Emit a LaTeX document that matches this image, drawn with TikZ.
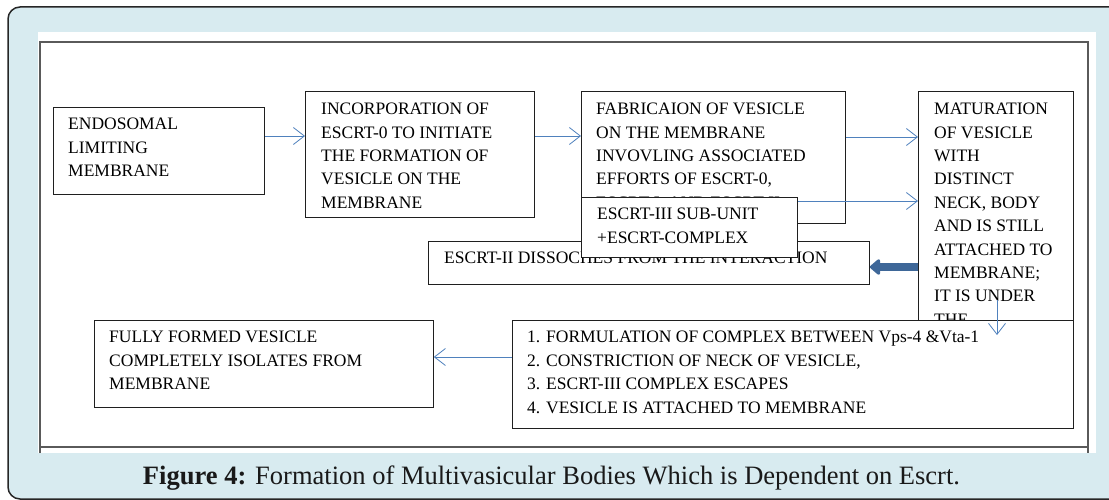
\documentclass[tikz,border=0pt]{standalone}
\usepackage{fontspec}
\setmainfont{Liberation Serif}
\usetikzlibrary{arrows.meta}
\definecolor{panelblue}{RGB}{216,235,240}
\definecolor{flowblue}{RGB}{79,129,189}
\definecolor{heavyblue}{RGB}{62,103,152}
\definecolor{framegray}{RGB}{90,90,90}
\begin{document}
\begin{tikzpicture}[x=1pt,y=-1pt,
  stepbox/.style={draw=black!88,line width=0.8pt,fill=white,inner sep=0pt,
    anchor=north west},
  boxtext/.style={anchor=north west,inner sep=0pt,align=left,
    font=\fontsize{17.5}{23.4}\selectfont,text=black},
  thinarrow/.style={draw=flowblue,line width=0.8pt,
    -{Straight Barb[length=11pt,width=17pt,line width=0.8pt]}},
  heavyarrow/.style={draw=heavyblue,line width=8pt,
    -{Triangle[length=11pt,width=18pt,round]}}]
\useasboundingbox (0,0) rectangle (1109,500);

% panel and page
\draw[fill=panelblue,draw=black!85,line width=1.5pt,rounded corners=12pt]
  (8,7) rectangle (1160,499);
\fill[white] (38,32) rectangle (1096,453);
\draw[framegray,line width=1.4pt] (40,453) -- (40,42) -- (1088,42) -- (1088,453);
\draw[framegray,line width=1.4pt] (40,447) -- (1088,447);

% process boxes
\node[stepbox,minimum width=211pt,minimum height=87pt] (endo) at (53,107) {};
\node[boxtext] (endo-t) at (68,118) {ENDOSOMAL\\LIMITING\\MEMBRANE};

\node[stepbox,minimum width=229pt,minimum height=126pt] (incorp) at (305,91) {};
\node[boxtext] (incorp-t) at (321,103)
  {INCORPORATION OF\\ESCRT-0 TO INITIATE\\THE FORMATION OF\\VESICLE ON THE\\MEMBRANE};

\node[stepbox,minimum width=264pt,minimum height=132pt] (fabric) at (581,91) {};
\node[boxtext] (fabric-t) at (596,103)
  {FABRICAION OF VESICLE\\ON THE MEMBRANE\\INVOVLING ASSOCIATED\\EFFORTS OF ESCRT-0,\\ESCRT-I, AND ESCRT-II};

\node[stepbox,minimum width=155pt,minimum height=240pt] (matur) at (918,91) {};
\node[boxtext] (matur-t) at (934,103)
  {MATURATION\\OF VESICLE\\WITH\\DISTINCT\\NECK, BODY\\AND IS STILL\\ATTACHED TO\\MEMBRANE;\\IT IS UNDER\\THE};

\node[stepbox,minimum width=441pt,minimum height=43pt] (escrt2) at (428,241) {};
\node[boxtext] (escrt2-t) at (444,252) {ESCRT-II DISSOCHES FROM THE INTERACTION};

\node[stepbox,minimum width=216pt,minimum height=60pt] (escrt3) at (581,197) {};
\node[boxtext] (escrt3-t) at (597,208) {ESCRT-III SUB-UNIT\\+ESCRT-COMPLEX};

\node[stepbox,minimum width=339pt,minimum height=87pt] (fully) at (94,320) {};
\node[boxtext] (fully-t) at (109,331)
  {FULLY FORMED VESICLE\\COMPLETELY ISOLATES FROM\\MEMBRANE};

\node[stepbox,minimum width=561pt,minimum height=108pt] (lower) at (512,320) {};
\node[boxtext] (lower-t) at (527,331)
  {1. FORMULATION OF COMPLEX BETWEEN Vps-4 \&Vta-1\\2. CONSTRICTION OF NECK OF VESICLE,\\3. ESCRT-III COMPLEX ESCAPES\\4. VESICLE IS ATTACHED TO MEMBRANE};

% connector levels
\coordinate (lv-top) at (0,136);
\coordinate (lv-mid) at (0,137);
\coordinate (lv-sub) at (0,201);
\coordinate (lv-back) at (0,267);
\coordinate (lv-low) at (0,357);
\coordinate (dn-start) at (997,300);
\coordinate (dn-end) at (997,335);

\draw[thinarrow] (endo.east |- lv-top) -- (incorp.west |- lv-top);
\draw[thinarrow] (incorp.east |- lv-top) -- (fabric.west |- lv-top);
\draw[thinarrow] (fabric.east |- lv-mid) -- (matur.west |- lv-mid);
\draw[thinarrow] (escrt3.east |- lv-sub) -- (matur.west |- lv-sub);
\draw[heavyarrow] (matur.west |- lv-back) -- (escrt2.east |- lv-back);
\draw[thinarrow] (dn-start) -- (dn-end);
\draw[thinarrow] (lower.west |- lv-low) -- (fully.east |- lv-low);

% caption
\node[anchor=base,inner sep=0pt,text=black!90] (caption) at (551.5,484)
  {\resizebox{817pt}{!}{\fontsize{23.5}{28}\selectfont\textbf{Figure 4:} Formation of Multivasicular Bodies Which is Dependent on Escrt.}};
\end{tikzpicture}
\end{document}
